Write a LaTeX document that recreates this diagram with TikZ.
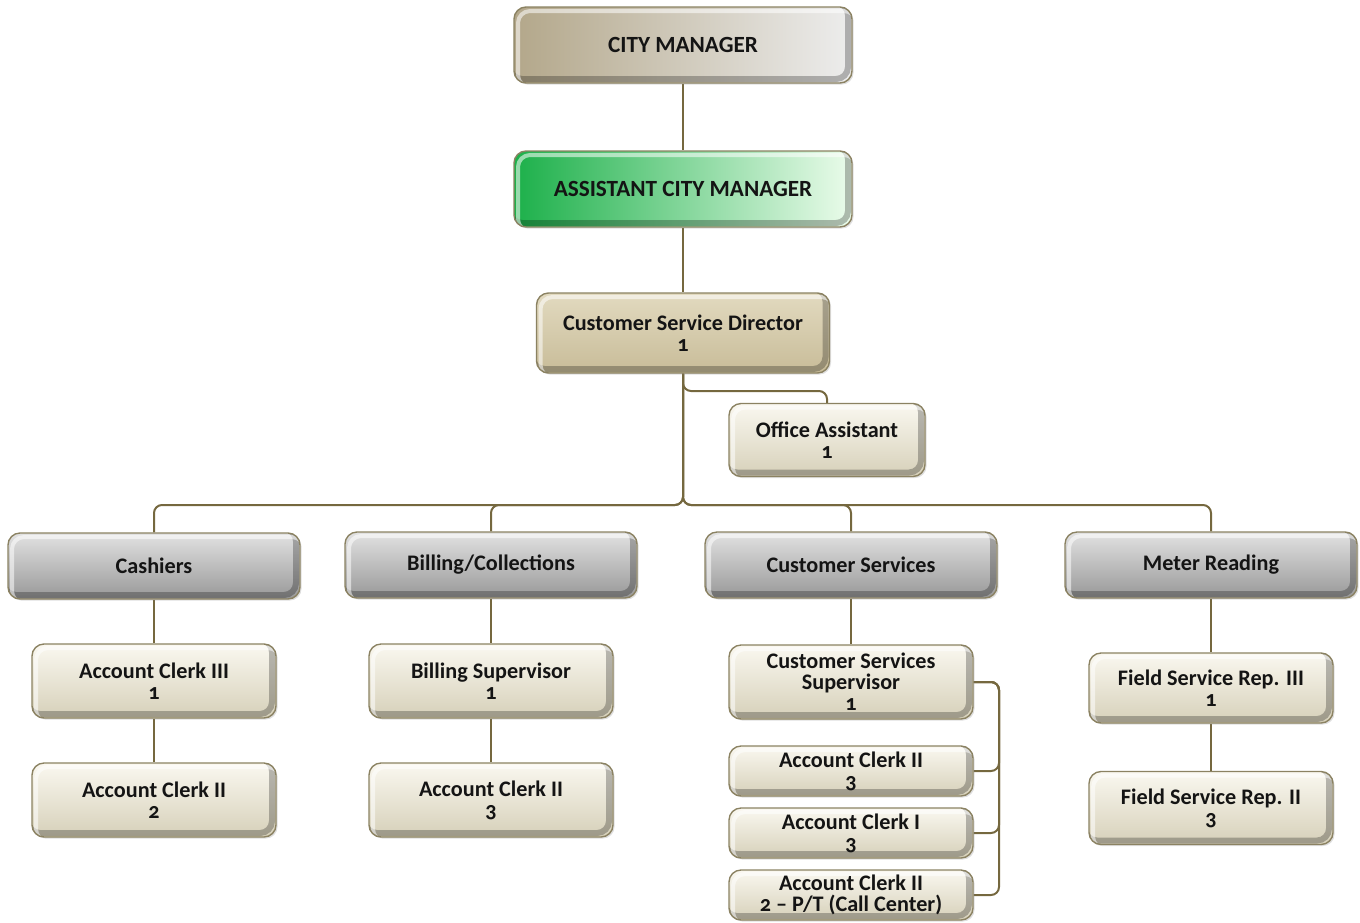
\documentclass[tikz,border=0pt]{standalone}
\usepackage{fontspec}
\setmainfont{Carlito}[Numbers=OldStyle]
\usetikzlibrary{shadows,backgrounds}

\definecolor{linkc}{HTML}{75683F}
\definecolor{rimc}{HTML}{8B8262}
\definecolor{tanL}{HTML}{B3A78A}
\definecolor{grayR}{HTML}{EDEDED}
\definecolor{greenL}{HTML}{1CB04A}
\definecolor{greenR}{HTML}{EBFCEB}
\definecolor{dirT}{HTML}{E2DAC0}
\definecolor{dirB}{HTML}{C8BC98}
\definecolor{creamT}{HTML}{FAF8F0}
\definecolor{creamB}{HTML}{D6D0B9}
\definecolor{hdrT}{HTML}{E2E2E2}
\definecolor{hdrB}{HTML}{989898}

\tikzset{
  box/.style={
    draw=rimc, line width=0.7pt, rounded corners=6pt,
    align=center, font=\bfseries\fontsize{11.1}{10.5}\selectfont, text=black!92,
    inner sep=0pt,
    drop shadow={opacity=0.25, shadow xshift=0.8pt, shadow yshift=-0.8pt},
    path picture={
      % dark rim along the right and bottom edges, light rim along the top and left
      \draw[black, opacity=0.26, line width=3pt, rounded corners=6pt]
        ([xshift=-2pt,yshift=2pt]path picture bounding box.south west)
        rectangle ([xshift=-2pt,yshift=2pt]path picture bounding box.north east);
      \draw[white, opacity=0.55, line width=2pt, rounded corners=6pt]
        ([xshift=2pt,yshift=-2pt]path picture bounding box.south west)
        rectangle ([xshift=2pt,yshift=-2pt]path picture bounding box.north east);
    }},
  capsfont/.style={font=\bfseries\fontsize{11.6}{12}\selectfont},
  topbox/.style={box, capsfont, left color=tanL, right color=grayR,
    minimum width=169pt, minimum height=38pt},
  acmbox/.style={box, capsfont, left color=greenL, right color=greenR,
    minimum width=169pt, minimum height=38pt},
  dirbox/.style={box, top color=dirT, bottom color=dirB,
    minimum width=146.5pt, minimum height=40pt},
  hdrbox/.style={box, top color=hdrT, bottom color=hdrB,
    minimum width=146pt, minimum height=33pt},
  posbox/.style={box, top color=creamT, bottom color=creamB,
    minimum width=122pt, minimum height=37pt},
  smallbox/.style={box, top color=creamT, bottom color=creamB,
    minimum width=122pt, minimum height=25pt},
  link/.style={draw=linkc, line width=1pt, rounded corners=4pt},
}

\begin{document}
\begin{tikzpicture}[x=0.5pt, y=-0.5pt]
\useasboundingbox (0,0) rectangle (1360,922);

% management chain
\node[topbox] (cm)  at (683,45)  {CITY MANAGER};
\node[acmbox] (acm) at (683,189) {ASSISTANT CITY MANAGER};
\node[dirbox] (csd) at (683,333) {Customer Service Director\\1};
\node[posbox, minimum width=98pt, minimum height=36.5pt] (oa) at (827,440) {Office Assistant\\1};

% divisions
\node[hdrbox] (cash) at (154,566)  {Cashiers};
\node[hdrbox] (bill) at (491,565)  {Billing/Collections};
\node[hdrbox] (cust) at (851,565)  {Customer Services};
\node[hdrbox] (mtr)  at (1211,565) {Meter Reading};

% cashiers
\node[posbox] (ac3)  at (154,681) {Account Clerk III\\1};
\node[posbox] (ac2a) at (154,800) {Account Clerk II\\2};

% billing
\node[posbox] (bsup) at (491,681) {Billing Supervisor\\1};
\node[posbox] (ac2b) at (491,800) {Account Clerk II\\3};

% customer services
\node[posbox] (css)  at (851,682) {Customer Services\\Supervisor\\1};
\node[smallbox] (ac2c) at (851,771) {Account Clerk II\\3};
\node[smallbox] (ac1)  at (851,833) {Account Clerk I\\3};
\node[smallbox] (ac2d) at (851,895) {Account Clerk II\\2 -- P/T (Call Center)};

% meter reading
\node[posbox, minimum height=35pt] (fs3) at (1211,688) {Field Service Rep. III\\1};
\node[posbox, minimum height=36.5pt] (fs2) at (1211,808) {Field Service Rep. II\\3};

% connectors
\coordinate (bus) at (683,505);
\coordinate (oaj) at (683,391);
\coordinate (rail) at (999,682);

\begin{scope}[on background layer]
\draw[link] (cm.south) -- (acm.north);
\draw[link] (acm.south) -- (csd.north);
\draw[link] (csd.south) -- (oaj) -| (oa.north);
\draw[link] (csd.south) -- (bus) -| (cash.north);
\draw[link] (csd.south) -- (bus) -| (bill.north);
\draw[link] (csd.south) -- (bus) -| (cust.north);
\draw[link] (csd.south) -- (bus) -| (mtr.north);

\draw[link] (cash.south) -- (ac3.north);
\draw[link] (ac3.south) -- (ac2a.north);
\draw[link] (bill.south) -- (bsup.north);
\draw[link] (bsup.south) -- (ac2b.north);
\draw[link] (mtr.south) -- (fs3.north);
\draw[link] (fs3.south) -- (fs2.north);
\draw[link] (cust.south) -- (css.north);

\draw[link] (css.east) -- (rail) |- (ac2c.east);
\draw[link] (css.east) -- (rail) |- (ac1.east);
\draw[link] (css.east) -- (rail) |- (ac2d.east);
\end{scope}
\end{tikzpicture}
\end{document}
